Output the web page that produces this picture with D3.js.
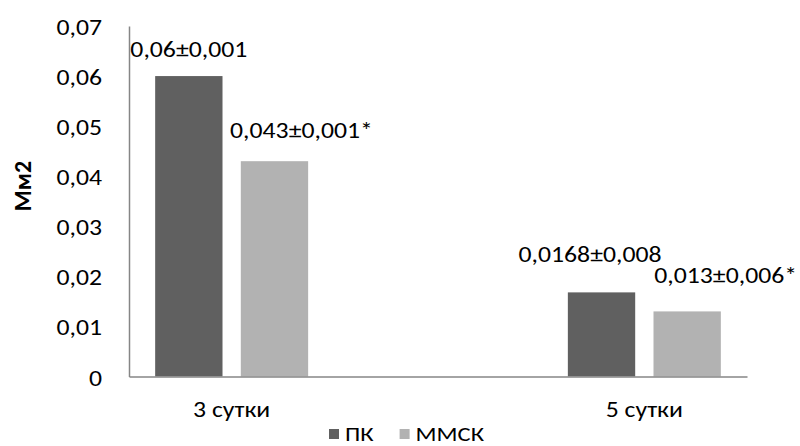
<!DOCTYPE html>
<html>
<head>
<meta charset="utf-8">
<script src="https://cdn.jsdelivr.net/npm/d3@7"></script>
<style>
  html, body { margin: 0; padding: 0; background: #fff; }
  svg { display: block; }
  text { font-family: Carlito, Calibri, Lato, "Open Sans", sans-serif; fill: #000; }
</style>
</head>
<body>
<svg id="chart" width="800" height="446"></svg>
<script>
// ---- data ----
const categories = ["3 сутки", "5 сутки"];
const seriesNames = ["ПК", "ММСК"];
const valuesPK = [0.06, 0.0168];
const valuesMMSK = [0.043, 0.013];
const labelsPK = ["0,06±0,001", "0,0168±0,008"];
const labelsMMSK = ["0,043±0,001*", "0,013±0,006*"];
const yTicks = [0, 0.01, 0.02, 0.03, 0.04, 0.05, 0.06, 0.07];
const yTitle = "Мм2";

// ---- layout / style ----
const colors = ["#606060", "#b2b2b2"];
const plot = { left: 129, right: 747, top: 26, bottom: 376.5 };
const FONT = 'Carlito, Calibri, Lato, "Open Sans", sans-serif';
const fontSize = 22;
const sx = 1.17; // horizontal stretch of the original picture's text
// label offsets [category][series] relative to bar centre / bar top (manually placed in the original)
const labelShift = [
  [{ dx: 0, dy: -19 }, { dx: 27, dy: -23 }],
  [{ dx: -11.5, dy: -30 }, { dx: 38.5, dy: -28.5 }]
];

const svg = d3.select("#chart");

const y = d3.scaleLinear().domain([0, 0.07]).range([plot.bottom, plot.top]);
const x0 = d3.scaleBand().domain(categories).range([plot.left, plot.right])
  .paddingInner(0.6293).paddingOuter(0.0634);
const x1 = d3.scaleBand().domain(seriesNames).range([0, x0.bandwidth()])
  .paddingInner(0.2137).paddingOuter(0);

const series = [
  { name: seriesNames[0], values: valuesPK, labels: labelsPK, color: colors[0] },
  { name: seriesNames[1], values: valuesMMSK, labels: labelsMMSK, color: colors[1] }
];

function stretchedText(parent, x, yy, str, anchor) {
  return parent.append("text")
    .attr("transform", `translate(${x},${yy}) scale(${sx},1)`)
    .attr("text-anchor", anchor || "start")
    .attr("font-size", fontSize)
    .attr("font-family", FONT)
    .text(str);
}

// y axis
const yAxis = d3.axisLeft(y).tickValues(yTicks).tickSize(0).tickPadding(27)
  .tickFormat(d => d === 0 ? "0" : d3.format(".2f")(d).replace(".", ","));
const gy = svg.append("g").attr("transform", `translate(${plot.left},0)`).call(yAxis);
gy.select(".domain").attr("stroke", "#868686").attr("stroke-width", 1.5);
gy.selectAll(".tick text").each(function () {
  const t = d3.select(this);
  const xx = +t.attr("x");
  t.attr("x", 0).attr("dy", null).attr("y", 0)
    .attr("transform", `translate(${xx},8.5) scale(${sx},1)`)
    .attr("font-size", fontSize).attr("fill", "#000").attr("font-family", FONT);
});

// bars
const flat = [];
series.forEach((s, si) => s.values.forEach((v, i) => flat.push({ v, i, si, name: s.name, color: s.color, label: s.labels[i] })));
svg.append("g").selectAll("rect").data(flat).join("rect")
  .attr("x", d => x0(categories[d.i]) + x1(d.name))
  .attr("width", x1.bandwidth())
  .attr("y", d => y(d.v))
  .attr("height", d => y(0) - y(d.v))
  .attr("fill", d => d.color);

// x axis
const xAxis = d3.axisBottom(x0).tickSize(0);
const gx = svg.append("g").attr("transform", `translate(0,${plot.bottom})`).call(xAxis);
gx.select(".domain").attr("stroke", "#868686").attr("stroke-width", 1.5);
gx.selectAll(".tick text").attr("y", 0).attr("dy", null)
  .attr("transform", `translate(0,40.5) scale(${sx},1)`)
  .attr("font-size", fontSize).attr("fill", "#000").attr("font-family", FONT);

// data labels
const lg = svg.append("g");
flat.forEach(d => {
  const sh = labelShift[d.i][d.si];
  stretchedText(lg, x0(categories[d.i]) + x1(d.name) + x1.bandwidth() / 2 + sh.dx, y(d.v) + sh.dy, d.label, "middle");
});

// y title
svg.append("text")
  .attr("transform", `translate(31,186) rotate(-90)`)
  .attr("text-anchor", "middle")
  .attr("font-size", 24)
  .attr("font-family", FONT)
  .attr("font-weight", "bold")
  .text(yTitle);

// legend
const legend = svg.append("g").attr("transform", "translate(329,440.5)");
let cx = 0;
series.forEach(s => {
  legend.append("rect").attr("x", cx).attr("y", -11.5).attr("width", 10).attr("height", 10).attr("fill", s.color);
  const t = stretchedText(legend, cx + 16, 0, s.name, "start");
  t.attr("font-size", 21);
  cx += 16 + t.node().getComputedTextLength() * sx + 26;
});
</script>
</body>
</html>
